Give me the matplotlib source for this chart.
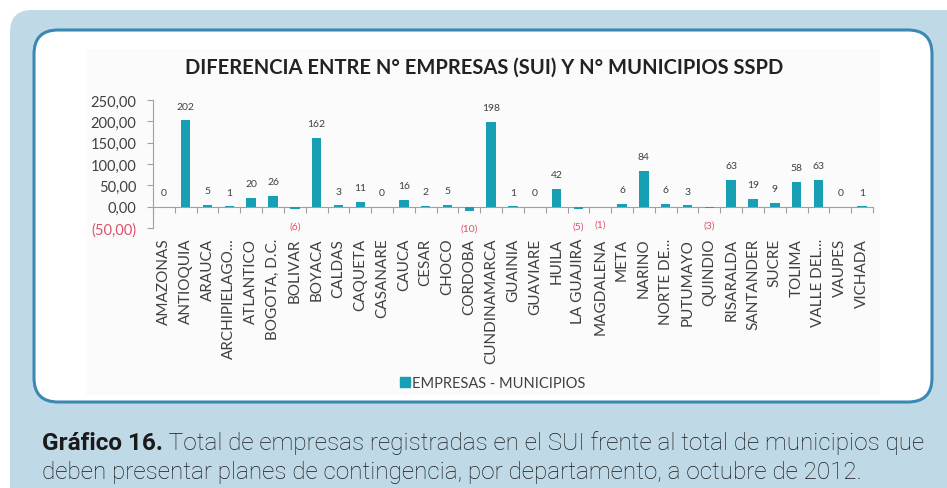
import matplotlib
matplotlib.use("Agg")
import matplotlib.pyplot as plt
from matplotlib.patches import FancyBboxPatch, Rectangle
from matplotlib.lines import Line2D
import numpy as np

departamentos = ["AMAZONAS", "ANTIOQUIA", "ARAUCA", "ARCHIPIELAGO...", "ATLANTICO",
                 "BOGOTA, D.C.", "BOLIVAR", "BOYACA", "CALDAS", "CAQUETA", "CASANARE",
                 "CAUCA", "CESAR", "CHOCO", "CORDOBA", "CUNDINAMARCA", "GUAINIA",
                 "GUAVIARE", "HUILA", "LA GUAJIRA", "MAGDALENA", "META", "NARINO",
                 "NORTE DE...", "PUTUMAYO", "QUINDIO", "RISARALDA", "SANTANDER",
                 "SUCRE", "TOLIMA", "VALLE DEL...", "VAUPES", "VICHADA"]
diferencia = [0, 202, 5, 1, 20, 26, -6, 162, 3, 11, 0, 16, 2, 5, -10, 198, 1,
              0, 42, -5, -1, 6, 84, 6, 3, -3, 63, 19, 9, 58, 63, 0, 1]
y_ticks = [-50, 0, 50, 100, 150, 200, 250]

TEAL = "#17a0b3"
GRAY = "#404040"
RED = "#e0506a"
FONT = ["Lato", "DejaVu Sans"]
W, H = 947, 489

fig = plt.figure(figsize=(W / 100, H / 100), dpi=100)
fig.patch.set_facecolor("white")

# background: light blue card with white rounded chart box
bg = fig.add_axes([0, 0, 1, 1], zorder=0)
bg.set_xlim(0, W)
bg.set_ylim(H, 0)
bg.axis("off")
bg.add_patch(FancyBboxPatch((10, 11), 980, 520, boxstyle="round,pad=0,rounding_size=22",
                            facecolor="#c0d9e6", edgecolor="none"))
bg.add_patch(FancyBboxPatch((34, 31), 898, 372, boxstyle="round,pad=0,rounding_size=24",
                            facecolor="white", edgecolor="#3b88b5", linewidth=2.2))
bg.add_patch(Rectangle((86, 50), 794, 346, facecolor="#fbfbfb", edgecolor="none"))

bg.text(484, 68, "DIFERENCIA ENTRE N° EMPRESAS (SUI) Y N° MUNICIPIOS SSPD",
        ha="center", va="center", fontsize=14.5, fontweight="bold",
        family=FONT, color="#222222")

# caption
cap_font = ["Roboto", "DejaVu Sans"]
t1 = bg.text(42, 443, "Gráfico 16.", ha="left", va="center", fontsize=17.5,
             fontweight="bold", family=cap_font, color="#1a1a1a")
bg.annotate(" Total de empresas registradas en el SUI frente al total de municipios que",
            xy=(1, 0.5), xycoords=t1, ha="left", va="center", fontsize=17.5,
            fontweight="light", family=cap_font, color="#1a1a1a")
bg.text(42, 472, "deben presentar planes de contingencia, por departamento, a octubre de 2012.",
        ha="left", va="center", fontsize=17.5, fontweight="light",
        family=cap_font, color="#1a1a1a")

# chart
ax = fig.add_axes([153 / W, 1 - 229 / H, 720 / W, 128 / H], zorder=1)
ax.patch.set_alpha(0)
x = np.arange(len(departamentos))
ax.bar(x, diferencia, width=0.43, color=TEAL, zorder=3)
ax.set_xlim(-0.5, len(departamentos) - 0.5)
ax.set_ylim(-50, 250)

for xi, v in zip(x, diferencia):
    if v < 0:
        ax.annotate(f"({-v})", (xi, v), xytext=(0, -9), textcoords="offset points",
                    ha="center", va="top", fontsize=7.5, color=RED, family=FONT)
    else:
        ax.annotate(f"{v}", (xi, v), xytext=(0, 7), textcoords="offset points",
                    ha="center", va="bottom", fontsize=7.5, color=GRAY, family=FONT)

for s in ["top", "right", "bottom"]:
    ax.spines[s].set_visible(False)
ax.spines["left"].set_color("#a0a0a0")
ax.set_yticks(y_ticks)
ax.set_yticklabels([f"({-t},00)" if t < 0 else f"{t},00" for t in y_ticks],
                   family=FONT, fontsize=10.5)
for lab, t in zip(ax.get_yticklabels(), y_ticks):
    lab.set_color(RED if t < 0 else GRAY)
ax.tick_params(axis="y", length=4, color="#a0a0a0", pad=8)

ax.set_xticks(x)
ax.set_xticklabels(departamentos, rotation=90, fontsize=11,
                   family=FONT, color=GRAY)
ax.tick_params(axis="x", length=0, pad=7)

# category axis drawn at zero
sec = ax.secondary_xaxis(50 / 300)
sec.spines["bottom"].set_color("#a0a0a0")
sec.set_xticks(np.arange(len(departamentos) + 1) - 0.5)
sec.set_xticklabels([])
sec.tick_params(axis="x", length=4, color="#a0a0a0")

# legend
handle = Line2D([], [], marker="s", linestyle="none", markersize=6.5, color=TEAL)
fig.legend([handle], ["EMPRESAS - MUNICIPIOS"], loc="center",
           bbox_to_anchor=(492 / W, 1 - 384 / H), frameon=False,
           prop={"family": FONT, "size": 10.5},
           handletextpad=0.1, handlelength=0.8, labelcolor=GRAY)

fig.savefig("out.png", dpi=100)
